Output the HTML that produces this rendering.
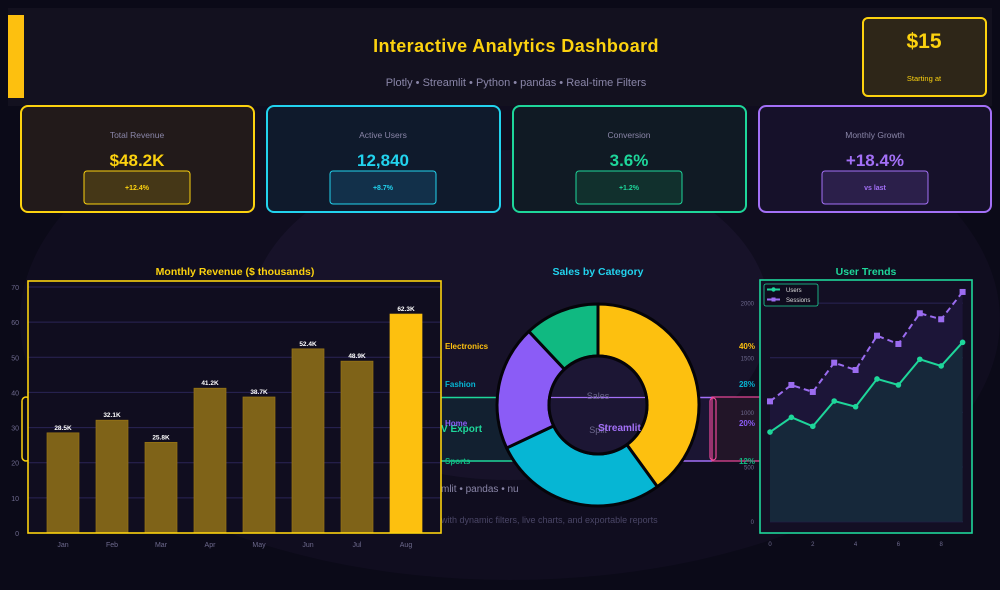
<!DOCTYPE html>
<html><head><meta charset="utf-8"><style>
html,body{margin:0;padding:0;background:#0b0a18;width:1000px;height:590px;overflow:hidden}
svg{display:block;font-family:"Liberation Sans",sans-serif}
</style></head><body>
<svg id="s" width="1000" height="590" viewBox="0 0 1000 590">
<rect width="1000" height="590" fill="#0b0a18"/>
<ellipse cx="510" cy="320" rx="490" ry="260" fill="#100d1f"/>
<ellipse cx="510" cy="315" rx="260" ry="165" fill="#171229"/>
<!-- header -->
<rect x="8" y="8" width="984" height="98" fill="#13111f"/>
<rect x="8" y="15" width="16" height="83" fill="#fdc00f"/>
<text x="516" y="52" text-anchor="middle" font-size="18" font-weight="bold" letter-spacing="0.4" fill="#fcd20f">Interactive Analytics  Dashboard</text>
<text x="516" y="86" text-anchor="middle" font-size="11" fill="#8a86a8">Plotly  •  Streamlit  •  Python  •  pandas  •  Real-time Filters</text>
<g>
<rect x="863" y="18" width="123" height="78" rx="5" fill="#2e2618" stroke="#fcd20f" stroke-width="2"/>
<text x="924" y="48" text-anchor="middle" font-size="21" font-weight="bold" fill="#fcd20f">$15</text>
<text x="924" y="81" text-anchor="middle" font-size="7.5" fill="#fcd20f">Starting at</text>
</g>
<!-- KPI cards -->
<g>
<rect x="21" y="106" width="233" height="106" rx="7" fill="#221a1a" stroke="#fcd20f" stroke-width="2"/>
<text x="137" y="138" text-anchor="middle" font-size="8.5" fill="#8a86a8">Total Revenue</text>
<text x="137" y="166" text-anchor="middle" font-size="17" font-weight="bold" fill="#fcd20f">$48.2K</text>
<rect x="84" y="171" width="106" height="33" rx="3" fill="#453717" stroke="#fcd20f" stroke-width="1"/>
<text x="137" y="190" text-anchor="middle" font-size="7" font-weight="bold" fill="#fcd20f">+12.4%</text>
</g>
<g>
<rect x="267" y="106" width="233" height="106" rx="7" fill="#0f1a2c" stroke="#22d3ee" stroke-width="2"/>
<text x="383" y="138" text-anchor="middle" font-size="8.5" fill="#8a86a8">Active Users</text>
<text x="383" y="166" text-anchor="middle" font-size="17" font-weight="bold" fill="#22d3ee">12,840</text>
<rect x="330" y="171" width="106" height="33" rx="3" fill="#12304a" stroke="#22d3ee" stroke-width="1"/>
<text x="383" y="190" text-anchor="middle" font-size="7" font-weight="bold" fill="#22d3ee">+8.7%</text>
</g>
<g>
<rect x="513" y="106" width="233" height="106" rx="7" fill="#101a24" stroke="#1ed69a" stroke-width="2"/>
<text x="629" y="138" text-anchor="middle" font-size="8.5" fill="#8a86a8">Conversion</text>
<text x="629" y="166" text-anchor="middle" font-size="17" font-weight="bold" fill="#1ed69a">3.6%</text>
<rect x="576" y="171" width="106" height="33" rx="3" fill="#11302d" stroke="#1ed69a" stroke-width="1"/>
<text x="629" y="190" text-anchor="middle" font-size="7" font-weight="bold" fill="#1ed69a">+1.2%</text>
</g>
<g>
<rect x="759" y="106" width="232" height="106" rx="7" fill="#16112a" stroke="#a370f7" stroke-width="2"/>
<text x="875" y="138" text-anchor="middle" font-size="8.5" fill="#8a86a8">Monthly Growth</text>
<text x="875" y="166" text-anchor="middle" font-size="17" font-weight="bold" fill="#a370f7">+18.4%</text>
<rect x="822" y="171" width="106" height="33" rx="3" fill="#2b1f4a" stroke="#a370f7" stroke-width="1"/>
<text x="875" y="190" text-anchor="middle" font-size="7" font-weight="bold" fill="#a370f7">vs last</text>
</g>
<!-- ghost artifacts behind charts -->
<g>
<rect x="441" y="397" width="120" height="64" fill="#122030"/>
<line x1="441" y1="397.5" x2="561" y2="397.5" stroke="#1ed69a" stroke-width="1.5"/>
<line x1="441" y1="461" x2="561" y2="461" stroke="#1ed69a" stroke-width="1.5"/>
<rect x="600" y="397" width="112" height="64" fill="#1b1533"/>
<line x1="550" y1="397.5" x2="712" y2="397.5" stroke="#a370f7" stroke-width="1.5"/>
<line x1="600" y1="461" x2="712" y2="461" stroke="#a370f7" stroke-width="1.5"/>
<rect x="712" y="397" width="55" height="64" fill="#221528" stroke="#ec4899" stroke-width="1.2"/>
<rect x="710" y="398" width="6" height="62" rx="3" fill="none" stroke="#ec4899" stroke-width="1.2"/>
<rect x="22" y="397" width="8" height="64" rx="4" fill="none" stroke="#fcd20f" stroke-width="1.5"/>
<text x="441" y="432" font-size="10" font-weight="bold" fill="#1ed69a">V Export</text>
<text x="441" y="492" font-size="10" fill="#8a86a8">mlit  •  pandas  •  nu</text>
<text x="441" y="523" font-size="9" fill="#4a4666">with dynamic filters, live charts, and exportable reports</text>
</g>
<g id="bar"></g>
<g id="donut"></g>
<g id="line"></g>
</svg>
<script>
const months=["Jan","Feb","Mar","Apr","May","Jun","Jul","Aug"];
const revenue=[28.5,32.1,25.8,41.2,38.7,52.4,48.9,62.3];
const revTicks=[0,10,20,30,40,50,60,70];
const cats=["Electronics","Fashion","Home","Sports"];
const catShares=[40,28,20,12];
const catColors=["#fdc00f","#06b6d4","#8b5cf6","#10b981"];
const trendX=[0,1,2,3,4,5,6,7,8,9];
const users=[820,955,873,1104,1052,1306,1251,1486,1425,1641];
const sessions=[1101,1251,1187,1455,1388,1702,1626,1907,1852,2102];
const trendYTicks=[0,500,1000,1500,2000];
const trendXTicks=[0,2,4,6,8];

const NS="http://www.w3.org/2000/svg";
function mk(parent,tag,attrs,txt){const e=document.createElementNS(NS,tag);for(const k in attrs)e.setAttribute(k,attrs[k]);if(txt!==undefined)e.textContent=txt;parent.appendChild(e);return e;}

// ---- bar chart
(function(){
const g=document.getElementById('bar');
const L=28,R=441,T=281,B=533;
const y=v=>B-v*(246/70);
const x=i=>63+i*49;
mk(g,'rect',{x:L,y:T,width:R-L,height:B-T,fill:'#100d1f'});
const t=mk(g,'text',{x:235,y:275,'text-anchor':'middle','font-size':10.5,'font-weight':'bold',fill:'#fcd20f'},'Monthly Revenue ($ thousands)');

revTicks.forEach(v=>{
 const gl=mk(g,'line',{x1:L,x2:R,y1:y(v),y2:y(v),stroke:'#2a2456','stroke-width':1});
 
 const tl=mk(g,'text',{x:19,y:y(v)+3,'text-anchor':'end','font-size':7,fill:'#6e6a8e'},String(v));
 
});
revenue.forEach((v,i)=>{
 const last=i===revenue.length-1;
 const r=mk(g,'rect',{x:x(i)-16,y:y(v),width:32,height:B-y(v),fill:last?'#fdc00f':'#7f6318',stroke:last?'#fdc00f':'#9a7614','stroke-width':0.7});
 
 
 const l=mk(g,'text',{x:x(i),y:y(v)-3,'text-anchor':'middle','font-size':6.5,'font-weight':'bold',fill:'#ffffff'},v.toFixed(1)+'K');
 
 const m=mk(g,'text',{x:x(i),y:547,'text-anchor':'middle','font-size':7,fill:'#6e6a8e'},months[i]);
 
});
const f=mk(g,'rect',{x:L,y:T,width:R-L,height:B-T,fill:'none',stroke:'#fcd20f','stroke-width':1.6});

})();

// ---- donut
(function(){
const g=document.getElementById('donut');
const cx=598,cy=405,Ro=101,Ri=49;
const t=mk(g,'text',{x:598,y:275,'text-anchor':'middle','font-size':10.5,'font-weight':'bold',fill:'#22d3ee'},'Sales by Category');

const total=catShares.reduce((a,b)=>a+b,0);
let a0=0;
const pt=(a,r)=>[cx+r*Math.sin(a),cy-r*Math.cos(a)];
catShares.forEach((v,i)=>{
 const a1=a0+v/total*2*Math.PI;
 const big=(a1-a0)>Math.PI?1:0;
 const p1=pt(a0,Ro),p2=pt(a1,Ro),p3=pt(a1,Ri),p4=pt(a0,Ri);
 const d=`M${p1}A${Ro},${Ro} 0 ${big} 1 ${p2}L${p3}A${Ri},${Ri} 0 ${big} 0 ${p4}Z`;
 const s=mk(g,'path',{d:d,fill:catColors[i],stroke:'#050409','stroke-width':3,'stroke-linejoin':'round'});
 
 
 a0=a1;
});
const c=mk(g,'circle',{cx:cx,cy:cy,r:Ri,fill:'#1c1634',stroke:'#050409','stroke-width':3});

mk(g,'line',{x1:cx-47,x2:cx+47,y1:397.5,y2:397.5,stroke:'#a370f7','stroke-width':1.2});
const s1=mk(g,'text',{x:cx,y:399,'text-anchor':'middle','font-size':9,fill:'#6e6a8e'},'Sales');

const s2=mk(g,'text',{x:cx,y:433,'text-anchor':'middle','font-size':9,fill:'#6e6a8e'},'Split');

const st=mk(g,'text',{x:598,y:431,'font-size':10,'font-weight':'bold',fill:'#a370f7'},'Streamlit');

const ly=[349,387,426,464];
cats.forEach((n,i)=>{
 const l=mk(g,'text',{x:445,y:ly[i],'font-size':8,'font-weight':'bold',fill:catColors[i]},n);
 
 const p=mk(g,'text',{x:755,y:ly[i],'text-anchor':'end','font-size':8,'font-weight':'bold',fill:catColors[i]},catShares[i]+'%');
 
});
})();

// ---- line chart
(function(){
const g=document.getElementById('line');
const x=v=>770+v*21.4;
const y=v=>521.7-v*0.1093;
mk(g,'rect',{x:760,y:280,width:212,height:253,fill:'#130f24'});
const t=mk(g,'text',{x:866,y:275,'text-anchor':'middle','font-size':10.5,'font-weight':'bold',fill:'#1ed69a'},'User Trends');

trendYTicks.forEach(v=>{
 mk(g,'line',{x1:770,x2:963,y1:y(v),y2:y(v),stroke:'#2a2456','stroke-width':1});
 const l=mk(g,'text',{x:754,y:y(v)+2.5,'text-anchor':'end','font-size':6,fill:'#6e6a8e'},String(v));
 
});
trendXTicks.forEach(v=>{
 const l=mk(g,'text',{x:x(v),y:546,'text-anchor':'middle','font-size':6,fill:'#6e6a8e'},String(v));
 
});
const ps=sessions.map((v,i)=>x(trendX[i])+','+y(v)).join(' ');
const pu=users.map((v,i)=>x(trendX[i])+','+y(v)).join(' ');
const n=trendX.length-1;
mk(g,'polygon',{points:ps+' '+x(trendX[n])+','+y(0)+' '+x(0)+','+y(0),fill:'#1c1538'});
const au=mk(g,'polygon',{points:pu+' '+x(trendX[n])+','+y(0)+' '+x(0)+','+y(0),fill:'#16283a'});

const ls=mk(g,'polyline',{points:ps,fill:'none',stroke:'#9b6cf0','stroke-width':2,'stroke-dasharray':'6,4'});

const lu=mk(g,'polyline',{points:pu,fill:'none',stroke:'#1ed69a','stroke-width':2});

sessions.forEach((v,i)=>{const m=mk(g,'rect',{x:x(trendX[i])-3,y:y(v)-3,width:6,height:6,fill:'#9b6cf0'});
 });
users.forEach((v,i)=>{const m=mk(g,'circle',{cx:x(trendX[i]),cy:y(v),r:2.8,fill:'#1ed69a'});
 });
const f=mk(g,'rect',{x:760,y:280,width:212,height:253,fill:'none',stroke:'#1ed69a','stroke-width':1.6});

const lg=mk(g,'g',{});

mk(lg,'rect',{x:764,y:284,width:54,height:22,rx:2,fill:'#0f0c1e',stroke:'#1ed69a','stroke-width':0.8});
mk(lg,'line',{x1:767,x2:780,y1:289.5,y2:289.5,stroke:'#1ed69a','stroke-width':2});
mk(lg,'circle',{cx:773.5,cy:289.5,r:2.2,fill:'#1ed69a'});
mk(lg,'text',{x:786,y:292,'font-size':6,fill:'#ddd'},'Users');
mk(lg,'line',{x1:767,x2:780,y1:299.5,y2:299.5,stroke:'#9b6cf0','stroke-width':2,'stroke-dasharray':'5,3'});
mk(lg,'rect',{x:771.5,y:297.5,width:4,height:4,fill:'#9b6cf0'});
mk(lg,'text',{x:786,y:302,'font-size':6,fill:'#ddd'},'Sessions');
})();
</script>
</body></html>
